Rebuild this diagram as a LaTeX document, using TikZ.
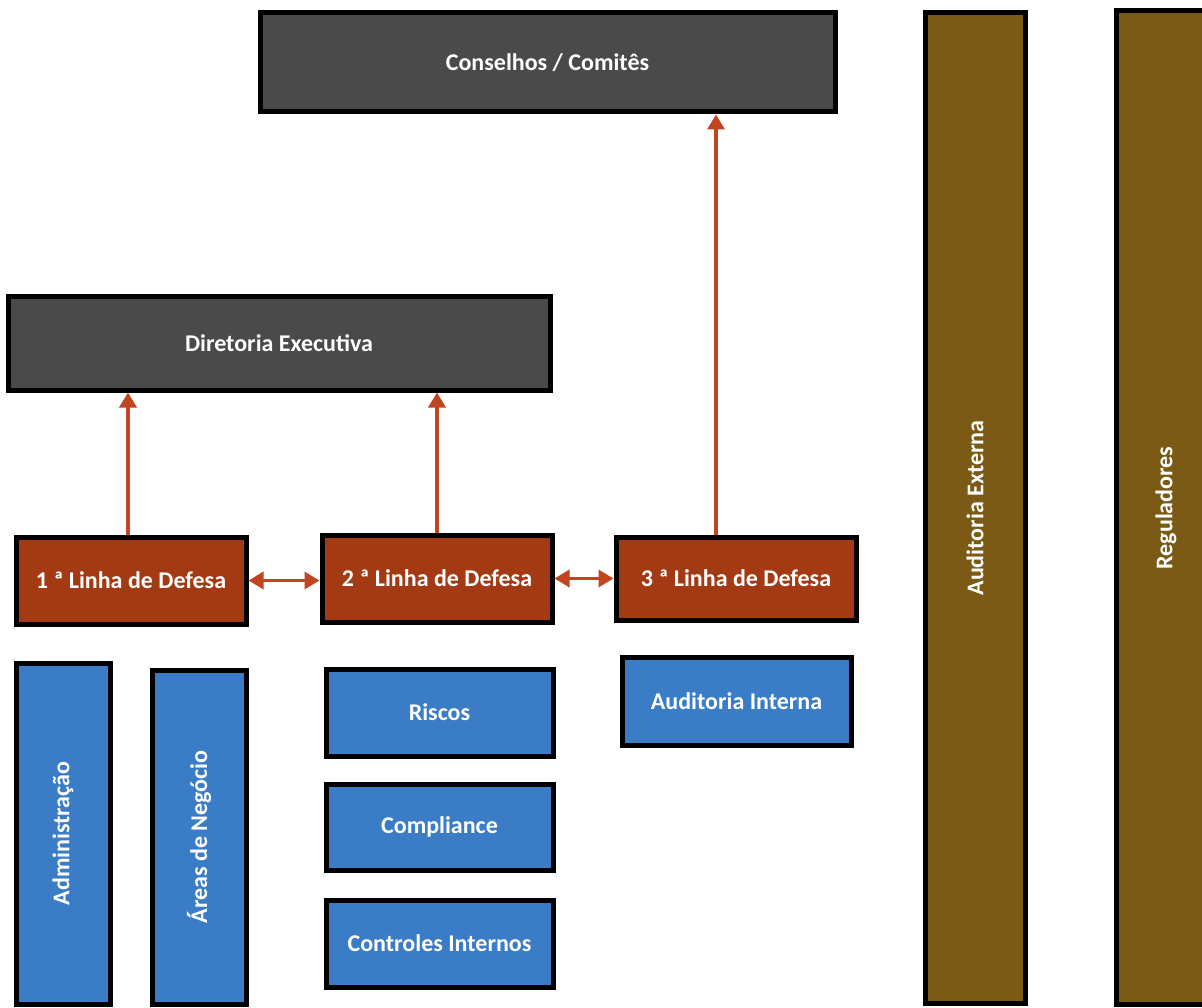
\documentclass[tikz,border=0pt]{standalone}
\usepackage{fontspec}
\setmainfont{Carlito}
\usetikzlibrary{arrows.meta}
\definecolor{cgray}{HTML}{4B4A4A}
\definecolor{cred}{HTML}{A33A14}
\definecolor{cblue}{HTML}{3A7CC6}
\definecolor{cbrown}{HTML}{7A5A14}
\definecolor{carrow}{HTML}{C04520}
\tikzset{
  txt/.style={text=white, font=\bfseries\fontsize{24}{28}\selectfont, inner sep=0pt},
  box/.style={draw=black, line width=5pt, txt},
  graybox/.style={box, fill=cgray},
  redbox/.style={box, fill=cred},
  bluebox/.style={box, fill=cblue},
  brownbox/.style={box, fill=cbrown},
  vtxt/.style={txt, rotate=90},
  link/.style={draw=carrow, line width=3.5pt, -{Triangle[length=15pt,width=17pt]}},
  dlink/.style={draw=carrow, line width=3.5pt, {Triangle[length=15pt,width=17pt]}-{Triangle[length=15pt,width=17pt]}}
}
\begin{document}
\begin{tikzpicture}[x=1pt,y=-1pt]
\useasboundingbox (0,0) rectangle (1202,1008);
\fill[white] (0,0) rectangle (1202,1008);
\node[graybox, minimum width=575pt, minimum height=99pt] (cons) at (547.5,62.5) {Conselhos / Comitês};
\node[graybox, minimum width=542pt, minimum height=93pt] (dir) at (279,343.5) {Diretoria Executiva};
\node[redbox, minimum width=230pt, minimum height=87pt] (l1) at (131,580.5) {1 ª Linha de Defesa};
\node[redbox, minimum width=230pt, minimum height=87pt] (l2) at (437,578.5) {2 ª Linha de Defesa};
\node[redbox, minimum width=240pt, minimum height=83pt] (l3) at (736,578.5) {3 ª Linha de Defesa};
\node[bluebox, minimum width=94pt, minimum height=341pt] (adm) at (63,833.5) {};
\node[vtxt] (admt) at (adm.center) {Administração};
\node[bluebox, minimum width=94pt, minimum height=334pt] (areas) at (199,837) {};
\node[vtxt] (areast) at (areas.center) {Áreas de Negócio};
\node[bluebox, minimum width=227pt, minimum height=87pt] (ris) at (439.5,712.5) {Riscos};
\node[bluebox, minimum width=227pt, minimum height=86pt] (comp) at (439.5,827) {Compliance};
\node[bluebox, minimum width=227pt, minimum height=87pt] (ci) at (439.5,943.5) {Controles Internos};
\node[bluebox, minimum width=229pt, minimum height=88pt] (ai) at (736.5,701) {Auditoria Interna};
\node[brownbox, minimum width=100pt, minimum height=990pt] (ae) at (975,508) {};
\node[vtxt] (aet) at (ae.center) {Auditoria Externa};
\node[brownbox, minimum width=120pt, minimum height=994pt, anchor=north west] (reg) at (1114,8) {};
\node[vtxt] (regt) at (1166,508) {Reguladores};
% connectors
\draw[link] (l1.north -| 128,0) -- (dir.south -| 128,0);
\draw[link] (l2.north) -- (dir.south -| l2.north);
\draw[link] (l3.north -| 716,0) -- (cons.south -| 716,0);
\draw[dlink] (l1.east) -- (l2.west |- l1.east);
\draw[dlink] (l2.east) -- (l3.west |- l2.east);
\end{tikzpicture}
\end{document}
